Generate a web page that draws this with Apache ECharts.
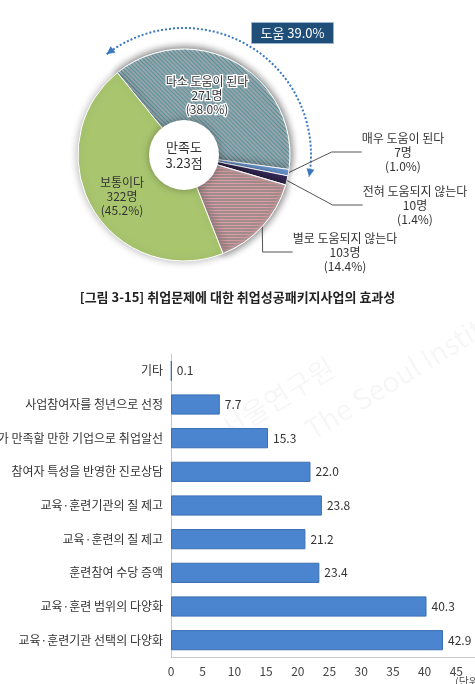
<!DOCTYPE html>
<html>
<head>
<meta charset="utf-8">
<script src="https://cdn.jsdelivr.net/npm/echarts@6/dist/echarts.min.js"></script>
<style>
  html, body { margin: 0; padding: 0; background: #fff; }
  #chart { width: 475px; height: 684px; }
</style>
</head>
<body>
<div id="chart"></div>
<script>
// 파이 차트: 취업문제에 대한 효과성 응답
const pieNames = ['다소 도움이 된다', '매우 도움이 된다', '전혀 도움되지 않는다', '별로 도움되지 않는다', '보통이다'];
const pieCounts = [271, 7, 10, 103, 322];
const piePercents = [38.0, 1.0, 1.4, 14.4, 45.2];
const helpShare = 39.0;      // 도움 비율
const satisfaction = 3.23;   // 만족도 점수
const caption = '[그림 3-15] 취업문제에 대한 취업성공패키지사업의 효과성';

// 막대 차트: 개선사항
const barCategories = [
  '기타',
  '사업참여자를 청년으로 선정',
  '참여자가 만족할 만한 기업으로 취업알선',
  '참여자 특성을 반영한 진로상담',
  '교육·훈련기관의 질 제고',
  '교육·훈련의 질 제고',
  '훈련참여 수당 증액',
  '교육·훈련 범위의 다양화',
  '교육·훈련기관 선택의 다양화',
];
const barValues = [0.1, 7.7, 15.3, 22.0, 23.8, 21.2, 23.4, 40.3, 42.9];

const FONT = "'Noto Sans CJK KR', 'Noto Sans', sans-serif";
const PIE_C = [184, 155];
const PIE_START = 129;

// 조각 스타일
const sliceStyles = [
  { color: '#e6f5f8', decal: { symbol: 'rect', symbolSize: 1, dashArrayX: [1, 0], dashArrayY: [1, 2], rotation: Math.PI / 4, color: '#5297a8' } },
  { color: '#6f9fdc' },
  { color: '#3a2d5e' },
  { color: '#f3d0d2', decal: { symbol: 'rect', symbolSize: 1, dashArrayX: [1, 0], dashArrayY: [1, 1.6], rotation: 0, color: '#dc9fa4' } },
  { color: '#a9c66f' },
];
const insideLabel = [true, false, false, false, true];
// 레이블 위치 (화면 좌표)
const labelPos = [[207, 95], [403, 152], [415, 205], [345, 252], [122, 196]];

const pieData = pieNames.map((n, i) => ({
  name: n,
  value: pieCounts[i],
  itemStyle: Object.assign({ borderColor: '#fff', borderWidth: 1 }, sliceStyles[i]),
  labelLine: { show: !insideLabel[i] },
  label: {
    formatter: n + '\n' + pieCounts[i] + '명\n(' + piePercents[i].toFixed(1) + '%)',
    textBorderColor: i === 0 ? '#fff' : 'transparent',
    textBorderWidth: i === 0 ? 2.5 : 0,
  },
}));

// 도움 화살표 호
const R_ARC = 127;
const a0 = PIE_START - 1.5;
const a1 = PIE_START - 360 * helpShare / 100 + 1.5;
const rad = (d) => -d * Math.PI / 180; // 캔버스 각도
function arrowHead(deg, dir) {
  const t = rad(deg);
  const px = PIE_C[0] + R_ARC * Math.cos(t), py = PIE_C[1] + R_ARC * Math.sin(t);
  const tx = -Math.sin(t) * dir, ty = Math.cos(t) * dir;
  const nx = Math.cos(t), ny = Math.sin(t);
  const bx = px - 8 * tx, by = py - 8 * ty;
  return [[px, py], [bx + 4 * nx, by + 4 * ny], [bx - 4 * nx, by - 4 * ny]];
}

const chart = echarts.init(document.getElementById('chart'));
chart.setOption({
  animation: false,
  textStyle: { fontFamily: FONT },
  grid: { left: 171, top: 354, bottom: 27, right: -13, containLabel: false, outerBoundsMode: 'none' },
  xAxis: {
    type: 'value', min: 0, max: 50, interval: 5,
    axisLine: { show: true, lineStyle: { color: '#c8c8c8' } },
    axisTick: { show: false },
    splitLine: { show: false },
    axisLabel: { color: '#444', fontSize: 12, margin: 8, fontFamily: FONT },
  },
  yAxis: {
    type: 'category', data: barCategories, inverse: true,
    axisLine: { show: true, lineStyle: { color: '#c8c8c8' } },
    axisTick: { show: false },
    axisLabel: { color: '#333', fontSize: 12, margin: 8, fontFamily: FONT },
  },
  series: [
    {
      type: 'pie',
      center: PIE_C,
      radius: [30, 106],
      startAngle: PIE_START,
      clockwise: true,
      avoidLabelOverlap: false,
      itemStyle: { shadowBlur: 8, shadowColor: 'rgba(0,0,0,0.3)' },
      label: { show: true, color: '#333', fontSize: 12, lineHeight: 14, align: 'center', fontFamily: FONT },
      labelLine: { show: true, lineStyle: { color: '#555', width: 1 } },
      labelLayout: (p) => ({ x: labelPos[p.dataIndex][0], y: labelPos[p.dataIndex][1], align: 'center', verticalAlign: 'middle' }),
      emphasis: { disabled: true },
      data: pieData,
    },
    {
      type: 'pie',
      center: PIE_C,
      radius: [0, 35],
      silent: true,
      z: 3,
      itemStyle: { color: '#fff', shadowBlur: 8, shadowColor: 'rgba(0,0,0,0.3)' },
      label: { show: true, position: 'center', formatter: '만족도\n' + satisfaction.toFixed(2) + '점', color: '#333', fontSize: 13, lineHeight: 16, fontFamily: FONT },
      labelLine: { show: false },
      emphasis: { disabled: true },
      data: [{ value: 1, name: '만족도' }],
    },
    {
      type: 'bar',
      data: barValues,
      barCategoryGap: '40%',
      itemStyle: { color: '#4b84cf', borderColor: '#3b6fb4', borderWidth: 1 },
      label: { show: true, position: 'right', distance: 5, color: '#333', fontSize: 12, fontFamily: FONT, formatter: (p) => p.value.toFixed(1) },
    },
  ],
  graphic: [
    {
      type: 'arc', silent: true,
      shape: { cx: PIE_C[0], cy: PIE_C[1], r: R_ARC, startAngle: rad(a0), endAngle: rad(a1), clockwise: true },
      style: { stroke: '#3c78c0', lineWidth: 2, lineDash: [2, 2], fill: null },
    },
    { type: 'polygon', silent: true, shape: { points: arrowHead(a0, -1) }, style: { fill: '#3c78c0' } },
    { type: 'polygon', silent: true, shape: { points: arrowHead(a1, 1) }, style: { fill: '#3c78c0' } },
    {
      type: 'rect', left: 251, top: 22, silent: true,
      shape: { width: 82, height: 21 },
      style: { fill: '#1f4e79', stroke: '#9bb3cf', lineWidth: 1 },
      textContent: { style: { text: '도움 ' + helpShare.toFixed(1) + '%', fill: '#fff', fontSize: 13, fontFamily: FONT } },
      textConfig: { position: 'inside' },
    },
    {
      type: 'text', left: 'center', top: 291, silent: true,
      style: { text: caption, fill: '#222', fontSize: 13, fontWeight: 'bold', fontFamily: FONT },
    },
    {
      type: 'text', x: 300, y: 420, rotation: 0.55, silent: true, z: -1,
      style: { text: 'The Seoul Institute', fill: 'rgba(0,0,0,0.035)', fontSize: 28, fontFamily: FONT },
    },
    {
      type: 'text', x: 215, y: 420, rotation: 0.55, silent: true, z: -1,
      style: { text: '서울연구원', fill: 'rgba(0,0,0,0.035)', fontSize: 28, fontFamily: FONT },
    },
    {
      type: 'text', left: 455, top: 676, silent: true,
      style: { text: '(단위: %)', fill: '#555', fontSize: 11, fontFamily: FONT },
    },
  ],
});
</script>
</body>
</html>
